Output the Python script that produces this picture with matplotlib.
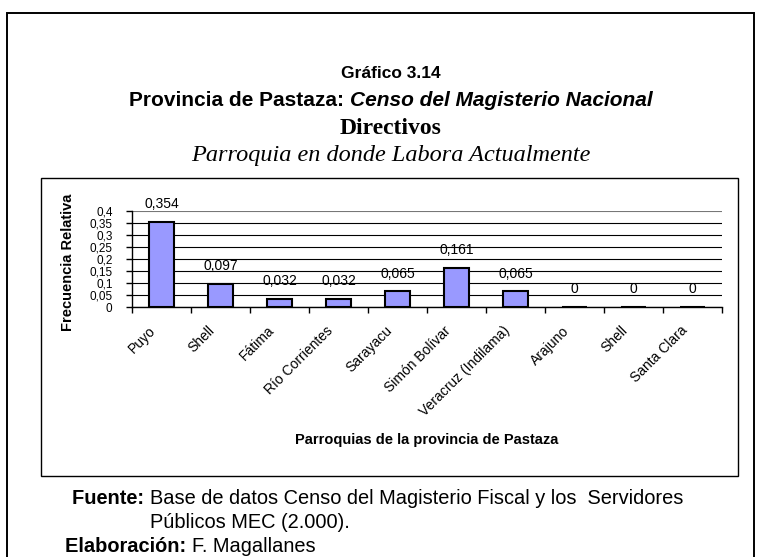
import matplotlib.pyplot as plt
import numpy as np
from matplotlib.patches import Rectangle
from matplotlib.transforms import ScaledTranslation

# --- DATA ---
PARROQUIAS = ['Puyo', 'Shell', 'Fátima', 'Río Corrientes', 'Sarayacu',
              'Simón Bolívar', 'Veracruz (Indilama)', 'Arajuno', 'Shell', 'Santa Clara']
FRECUENCIA = [0.354, 0.097, 0.032, 0.032, 0.065, 0.161, 0.065, 0, 0, 0]
Y_TICKS = [0, 0.05, 0.1, 0.15, 0.2, 0.25, 0.3, 0.35, 0.4]

W, H = 761, 557
SANS = 'Liberation Sans'
SERIF = 'Liberation Serif'


def fx(px):
    return px / W


def fy(py):
    return 1 - py / H


def comma(v):
    s = ('%.3f' % v).rstrip('0').rstrip('.')
    return s.replace('.', ',')


def run_texts(fig, parts, x, y, center=False):
    """Draw a row of text pieces with different styles one after another."""
    r = fig.canvas.get_renderer()
    arts = [fig.text(0, fy(y), txt, va='baseline', ha='left', **kw) for txt, kw in parts]
    widths = [a.get_window_extent(r).width for a in arts]
    start = x - sum(widths) / 2 if center else x
    lefts = []
    for a, w in zip(arts, widths):
        a.set_x(fx(start))
        lefts.append(start)
        start += w
    return lefts


fig = plt.figure(figsize=(W / 100, H / 100), dpi=100)

# outer frame and inner chart box
fig.add_artist(Rectangle((fx(7), fy(565)), fx(754 - 7), (565 - 13) / H, transform=fig.transFigure,
                         fill=False, lw=1.4, ec='black'))
fig.add_artist(Rectangle((fx(41), fy(476)), fx(738 - 41), (476 - 178) / H, transform=fig.transFigure,
                         fill=False, lw=1.0, ec='black'))

ax = fig.add_axes([fx(132), fy(307), fx(722 - 132), (307 - 211) / H])
x = np.arange(len(PARROQUIAS))
ax.bar(x, FRECUENCIA, width=0.41, color='#9999ff', edgecolor='black', linewidth=1.5, zorder=3)
for xi, v in zip(x, FRECUENCIA):
    ax.annotate(comma(v), (xi, v), xytext=(0, 10), textcoords='offset points',
                ha='center', va='baseline', fontsize=10, family=SANS, zorder=4)

ax.set_xlim(-0.5, len(PARROQUIAS) - 0.5)
ax.set_ylim(0, 0.4)
ax.set_yticks(Y_TICKS)
ax.set_yticklabels([comma(v) for v in Y_TICKS], fontsize=8.5, family=SANS)
ax.yaxis.set_tick_params(length=4, width=1, pad=10)
ax.grid(axis='y', color='black', lw=0.8, zorder=1)
ax.get_ygridlines()[-1].set_color('#777777')

ax.set_xticks(x)
ax.set_xticklabels(PARROQUIAS, rotation=45, ha='right', va='center', rotation_mode='anchor',
                   fontsize=10, family=SANS)
ax.xaxis.set_tick_params(length=0, pad=15.5)
shift = ScaledTranslation(-5.5 / 72, 0, fig.dpi_scale_trans)
for lab in ax.get_xticklabels():
    lab.set_transform(lab.get_transform() + shift)
ax.set_xticks(np.arange(len(PARROQUIAS) + 1) - 0.5, minor=True)
ax.xaxis.set_tick_params(which='minor', length=4, width=1)

for s in ['top', 'right']:
    ax.spines[s].set_visible(False)
ax.spines['left'].set_linewidth(1)
ax.spines['bottom'].set_linewidth(1)

fig.text(fx(68), fy(262), 'Frecuencia Relativa', rotation=90, ha='center', va='center',
         fontsize=10.5, fontweight='bold', family=SANS)
fig.text(fx(427), fy(440), 'Parroquias de la provincia de Pastaza', ha='center', va='center',
         fontsize=10.5, fontweight='bold', family=SANS)

# titles
TX = 391
fig.text(fx(TX), fy(78), 'Gráfico 3.14', ha='center', va='baseline',
         fontsize=12.5, fontweight='bold', family=SANS)
run_texts(fig, [('Provincia de Pastaza: ', dict(fontsize=15, fontweight='bold', family=SANS)),
                ('Censo del Magisterio Nacional', dict(fontsize=15, fontweight='bold',
                                                       style='italic', family=SANS))],
          TX, 106, center=True)
fig.text(fx(TX), fy(134), 'Directivos', ha='center', va='baseline',
         fontsize=17, fontweight='bold', family=SERIF)
fig.text(fx(TX), fy(161), 'Parroquia en donde Labora Actualmente', ha='center', va='baseline',
         fontsize=17.5, style='italic', family=SERIF)

# footnote
FS = 14.4
lefts = run_texts(fig, [('Fuente: ', dict(fontsize=FS, fontweight='bold', family=SANS)),
                        ('Base de datos Censo del Magisterio Fiscal y los  Servidores',
                         dict(fontsize=FS, family=SANS))], 72, 504)
fig.text(fx(lefts[1]), fy(528), 'Públicos MEC (2.000).', fontsize=FS, family=SANS, va='baseline')
run_texts(fig, [('Elaboración: ', dict(fontsize=FS, fontweight='bold', family=SANS)),
                ('F. Magallanes', dict(fontsize=FS, family=SANS))], 65, 552)

fig.savefig('out.png', dpi=100)
